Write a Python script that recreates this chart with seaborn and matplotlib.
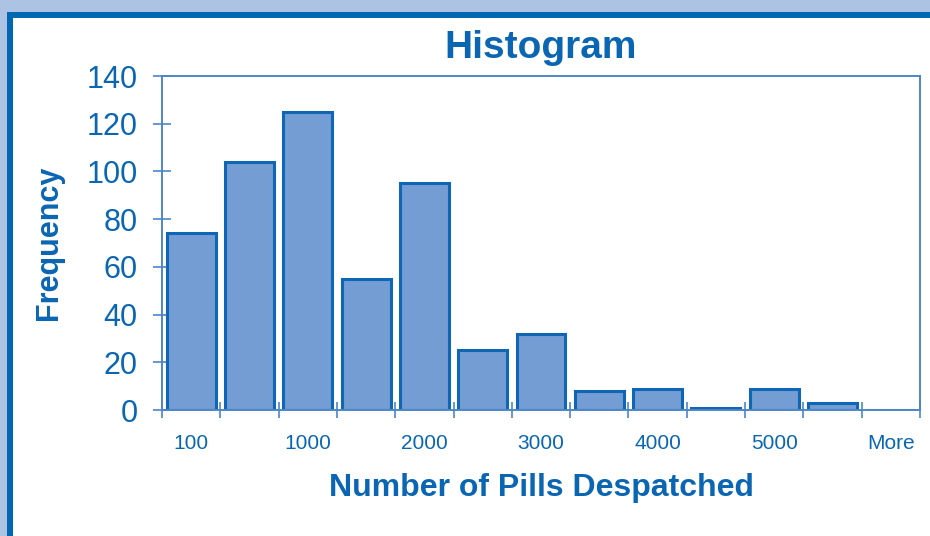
import matplotlib
matplotlib.use("Agg")
import matplotlib.pyplot as plt
from matplotlib.patches import Rectangle
from matplotlib.ticker import FixedLocator
import seaborn as sns
import pandas as pd

# Histogram bins (upper bounds) and their counts
bins = ["100", "500", "1000", "1500", "2000", "2500", "3000",
        "3500", "4000", "4500", "5000", "5500", "More"]
frequency = [74, 104, 125, 55, 95, 25, 32, 8, 9, 1, 9, 3, 0]
shown_labels = ["100", "", "1000", "", "2000", "", "3000",
                "", "4000", "", "5000", "", "More"]
y_ticks = [0, 20, 40, 60, 80, 100, 120, 140]

TEXT = "#0a66b3"
FRAME_LIGHT = "#adc3e4"
FRAME_DARK = "#0068b3"
BAR_FILL = "#739dd3"
BAR_EDGE = "#0e66b5"
SPINE = "#4d86c8"

sns.set_theme(style="white")
plt.rcParams["font.family"] = ["Liberation Sans", "DejaVu Sans"]

W, H = 930, 536
fig = plt.figure(figsize=(W / 100, H / 100), dpi=100)
fig.patch.set_facecolor(FRAME_LIGHT)

# Panel frame: dark blue border and white interior
fig.add_artist(Rectangle((7 / W, 0), 1, (H - 12) / H, transform=fig.transFigure,
                         facecolor=FRAME_DARK, edgecolor="none", zorder=-2))
fig.add_artist(Rectangle((13 / W, 0), 1, (H - 18) / H, transform=fig.transFigure,
                         facecolor="white", edgecolor="none", zorder=-1))

ax = fig.add_axes([162 / W, (H - 410) / H, (920 - 162) / W, (410 - 76) / H])
ax.set_facecolor("none")

df = pd.DataFrame({"bin": bins, "freq": frequency})
sns.barplot(data=df, x="bin", y="freq", order=bins, color=BAR_FILL,
            saturation=1, edgecolor=BAR_EDGE, linewidth=2.2, width=0.84, ax=ax)

ax.set_xlim(-0.5, len(bins) - 0.5)
ax.set_ylim(0, 140)

# Category labels at bar centres, tick marks at bin boundaries
ax.set_xticks(range(len(bins)))
ax.set_xticklabels(shown_labels, fontsize=15, color=TEXT)
ax.tick_params(axis="x", which="major", length=0, pad=17, bottom=True)
ax.xaxis.set_minor_locator(FixedLocator([i - 0.5 for i in range(len(bins) + 1)]))
ax.tick_params(axis="x", which="minor", direction="inout", length=11,
               width=1.2, color=SPINE, bottom=True)

ax.set_yticks(y_ticks)
ax.set_yticklabels([str(v) for v in y_ticks], fontsize=22, color=TEXT)
ax.tick_params(axis="y", which="major", direction="inout", length=13,
               width=1.2, color=SPINE, pad=11, left=True)

for side in ["left", "right", "top", "bottom"]:
    ax.spines[side].set_visible(True)
    ax.spines[side].set_color(SPINE)
    ax.spines[side].set_linewidth(1.4)

ax.set_xlabel("Number of Pills Despatched", fontsize=23, fontweight="bold",
              color=TEXT, labelpad=15)
ax.set_ylabel("Frequency", fontsize=22, fontweight="bold", color=TEXT,
              labelpad=16)
ax.set_title("Histogram", fontsize=28, fontweight="bold", color=TEXT, pad=13)

fig.savefig("out.png", dpi=100, facecolor=fig.get_facecolor())
